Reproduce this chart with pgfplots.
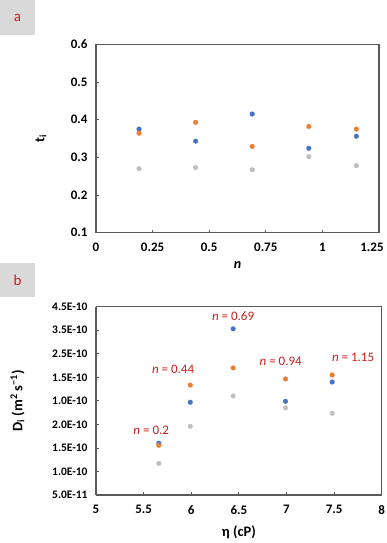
\documentclass[border=0pt]{standalone}
\usepackage{fontspec}
\setmainfont{Carlito}
\usepackage{pgfplots}
\usepackage{pgfplotstable}
\pgfplotsset{compat=1.18}
\definecolor{serA}{HTML}{4472C4}
\definecolor{serB}{HTML}{ED7D31}
\definecolor{serC}{HTML}{BFBFBF}
\definecolor{axgray}{HTML}{595959}
\definecolor{annot}{HTML}{C81E1E}
\definecolor{boxgray}{HTML}{D9D9D9}

% panel a: transference number vs n
\pgfplotstableread{
n     blue   orange  gray
0.19  0.375  0.364   0.270
0.44  0.343  0.393   0.273
0.69  0.415  0.329   0.267
0.94  0.324  0.382   0.302
1.15  0.356  0.375   0.278
}\tdata

% panel b: diffusion coefficient (1e-10 m2/s) vs viscosity
\pgfplotstableread{
eta   blue   orange  gray
5.66  1.60   1.555   1.17
5.99  2.47   2.835   1.96
6.44  4.03   3.20    2.605
6.99  2.49   2.965   2.35
7.48  2.90   3.05    2.235
}\ddata

\pgfplotsset{
  panel/.style={
    scale only axis,
    axis line style={axgray, line width=1.1pt},
    tick style={axgray, line width=0.8pt},
    tick align=inside,
    major tick length=3pt,
    axis x line*=bottom, axis y line*=left,
    yticklabel style={xshift=-5pt},
    xticklabel style={yshift=-7pt},
    /pgf/number format/assume math mode=true,
    clip=false,
  },
  dot/.style={only marks, mark=*, mark size=2.3pt, mark options={draw=#1, fill=#1}},
}

\begin{document}
\begin{tikzpicture}
\useasboundingbox (0pt,0pt) rectangle (387pt,543pt);

% label boxes
\fill[boxgray] (0pt,543pt) rectangle (35pt,508pt);
\node[annot, font=\fontsize{15}{15}\selectfont] at (17.5pt,525.5pt) {a};
\fill[boxgray] (0pt,280pt) rectangle (35pt,246pt);
\node[annot, font=\fontsize{15}{15}\selectfont] at (17.5pt,263pt) {b};

\begin{axis}[panel,
  at={(96pt,310.3pt)}, anchor=south west,
  width=283pt, height=188.4pt,
  xmin=0, xmax=1.25, ymin=0.1, ymax=0.6,
  xtick={0,0.25,0.5,0.75,1,1.25},
  xticklabels={0,0.25,0.5,0.75,1,\hspace*{-14pt}1.25},
  ytick={0.1,0.2,0.3,0.4,0.5,0.6},
  yticklabels={0.1,0.2,0.3,0.4,0.5,0.6},
  ticklabel style={font=\fontsize{13}{14}\selectfont\bfseries},
  xlabel={\textbf{\textit{n}}},
  ylabel={\textbf{t\textsubscript{i}}},
  label style={font=\fontsize{14}{16}\selectfont},
  xlabel style={at={(axis description cs:0.5,0)}, anchor=north, yshift=-25pt},
  ylabel style={at={(axis description cs:0,0.5)}, anchor=south, yshift=46pt},
]
\draw[axgray, line width=1.1pt] (rel axis cs:0,1) -- (rel axis cs:1,1) -- (rel axis cs:1,0);
\addplot[dot=serA] table[x=n, y=blue] {\tdata};
\addplot[dot=serB] table[x=n, y=orange] {\tdata};
\addplot[dot=serC] table[x=n, y=gray] {\tdata};
\end{axis}

\begin{axis}[panel,
  at={(96pt,48pt)}, anchor=south west,
  width=285.7pt, height=188.3pt,
  xmin=5, xmax=8, ymin=0.5, ymax=4.5,
  xtick={5,5.5,6,6.5,7,7.5,8},
  xticklabels={5,5.5,6,6.5,7,7.5,8},
  ytick={0.5,1,1.5,2,2.5,3,3.5,4,4.5},
  yticklabels={5.0E-11,1.0E-10,1.5E-10,2.0E-10,1.0E-10,1.5E-10,2.5E-10,3.5E-10,4.5E-10},
  xticklabel style={font=\fontsize{13}{14}\selectfont\bfseries},
  yticklabel style={font=\fontsize{11.5}{13}\selectfont\bfseries},
  xlabel={\textbf{η (cP)}},
  ylabel={\textbf{D\textsubscript{i} (m\textsuperscript{2} s\textsuperscript{−1})}},
  label style={font=\fontsize{14.5}{16}\selectfont},
  xlabel style={at={(axis description cs:0.5,0)}, anchor=north, yshift=-27pt},
  ylabel style={at={(axis description cs:0,0.5)}, anchor=south, yshift=68pt},
]
\draw[axgray, line width=1.1pt] (rel axis cs:0,1) -- (rel axis cs:1,1) -- (rel axis cs:1,0);
\addplot[dot=serA] table[x=eta, y=blue] {\ddata};
\addplot[dot=serB] table[x=eta, y=orange] {\ddata};
\addplot[dot=serC] table[x=eta, y=gray] {\ddata};
\begin{scope}[every node/.style={annot, font=\fontsize{13}{15}\selectfont}]
\node at (axis cs:5.58,1.88) {\textit{n} = 0.2};
\node at (axis cs:5.81,3.17) {\textit{n} = 0.44};
\node at (axis cs:6.44,4.30) {\textit{n} = 0.69};
\node at (axis cs:6.94,3.335) {\textit{n} = 0.94};
\node at (axis cs:7.70,3.425) {\textit{n} = 1.15};
\end{scope}
\end{axis}
\end{tikzpicture}
\end{document}
